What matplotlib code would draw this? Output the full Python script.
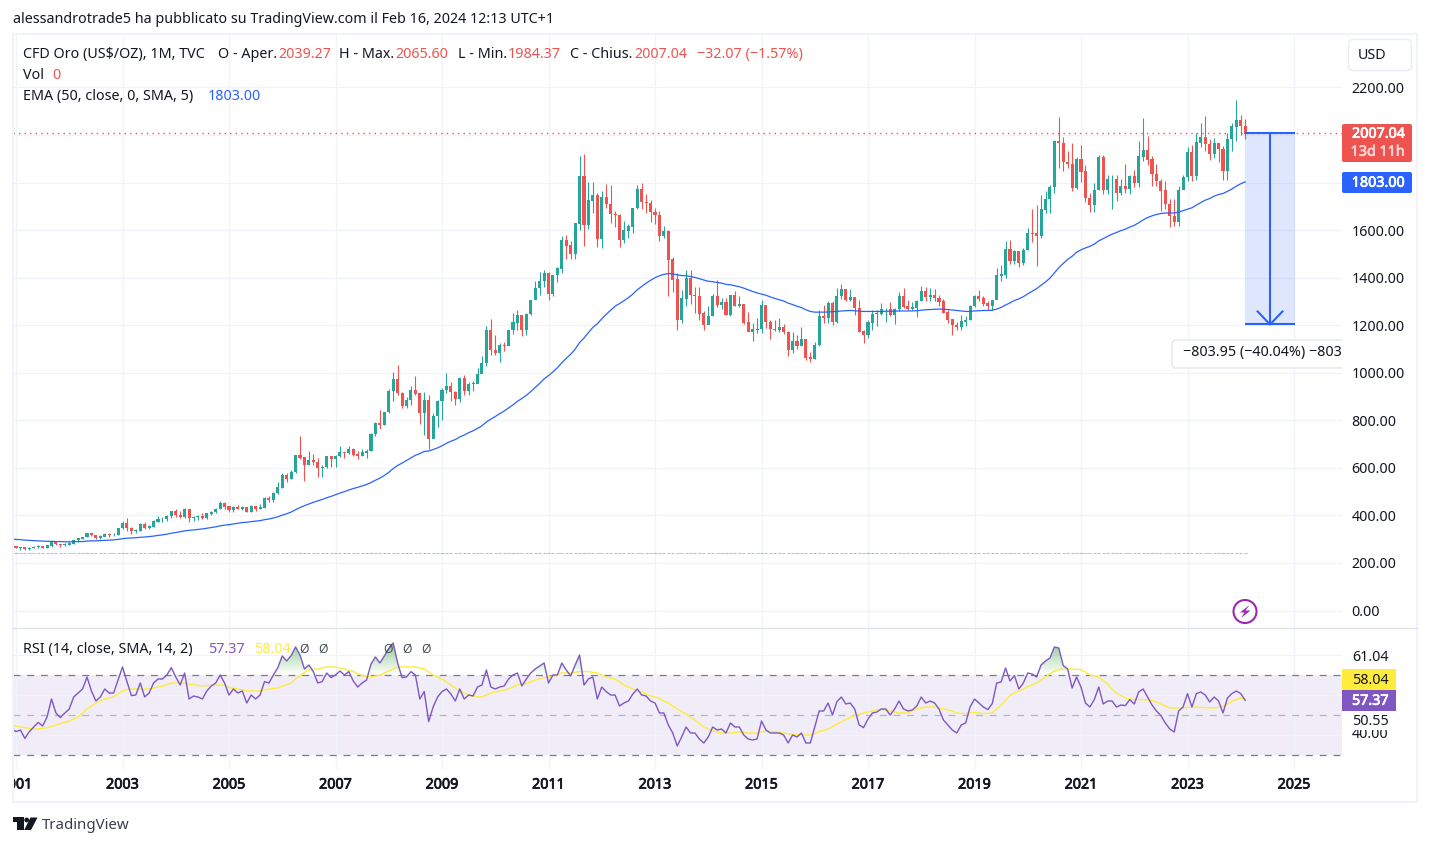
import matplotlib
matplotlib.use("Agg")
import matplotlib.pyplot as plt
import matplotlib.patheffects as pe
import numpy as np
from matplotlib.patches import Rectangle, FancyBboxPatch, Circle, Polygon, PathPatch
from matplotlib.path import Path

plt.rcParams['font.family'] = ['Noto Sans', 'DejaVu Sans']

# monthly candles, Jan 2001 -> Feb 2024
opens = [
    272, 265, 267, 258, 264, 266, 270, 265, 273, 293, 279, 275,
    277, 282, 297, 303, 309, 326, 318, 305, 312, 323, 317, 318,
    347, 367, 347, 335, 336, 364, 346, 354, 375, 385, 386, 398,
    416, 402, 396, 426, 388, 394, 395, 391, 408, 415, 428, 453,
    438, 422, 434, 428, 436, 414, 437, 429, 433, 473, 464, 495,
    517, 569, 556, 582, 654, 643, 613, 632, 624, 599, 603, 648,
    636, 650, 664, 663, 680, 656, 650, 665, 672, 743, 790, 783,
    834, 923, 972, 916, 863, 886, 926, 913, 833, 884, 724, 818,
    880, 928, 943, 919, 891, 979, 926, 953, 955, 995, 1040, 1180,
    1096, 1082, 1117, 1113, 1180, 1212, 1244, 1181, 1248, 1307, 1357, 1385,
    1421, 1333, 1410, 1439, 1556, 1536, 1501, 1628, 1827, 1621, 1724, 1747,
    1564, 1738, 1710, 1669, 1664, 1560, 1598, 1615, 1692, 1774, 1719, 1713,
    1675, 1663, 1578, 1595, 1476, 1393, 1224, 1313, 1396, 1327, 1323, 1250,
    1201, 1240, 1321, 1284, 1296, 1245, 1327, 1282, 1287, 1211, 1171, 1182,
    1184, 1283, 1213, 1183, 1182, 1190, 1172, 1095, 1134, 1115, 1142, 1064,
    1060, 1118, 1237, 1232, 1293, 1216, 1322, 1351, 1308, 1316, 1272, 1173,
    1159, 1211, 1248, 1249, 1268, 1268, 1242, 1269, 1321, 1279, 1271, 1275,
    1303, 1345, 1318, 1325, 1315, 1300, 1253, 1224, 1201, 1192, 1215, 1222,
    1282, 1321, 1313, 1292, 1283, 1305, 1409, 1413, 1520, 1472, 1511, 1464,
    1517, 1589, 1586, 1577, 1687, 1730, 1781, 1975, 1967, 1886, 1879, 1777,
    1898, 1847, 1734, 1708, 1769, 1907, 1770, 1814, 1814, 1757, 1783, 1774,
    1829, 1797, 1909, 1937, 1897, 1837, 1807, 1766, 1711, 1660, 1633, 1768,
    1824, 1928, 1827, 1969, 1990, 1962, 1919, 1965, 1940, 1849, 1984, 2036,
    2063, 2039.27,
]
highs = [
    272, 268, 267, 268, 273, 274, 271, 276, 294, 294, 278, 282,
    288, 298, 305, 311, 328, 327, 319, 317, 327, 325, 324, 349,
    375, 389, 352, 343, 370, 372, 359, 379, 396, 393, 400, 417,
    428, 420, 430, 428, 399, 402, 409, 412, 418, 430, 459, 456,
    430, 438, 445, 439, 435, 442, 437, 447, 476, 480, 497, 542,
    577, 578, 590, 655, 732, 643, 672, 659, 642, 610, 650, 640,
    655, 690, 668, 692, 684, 672, 680, 678, 745, 795, 845, 835,
    930, 1002, 1033, 920, 900, 945, 988, 915, 920, 905, 830, 885,
    935, 1000, 963, 925, 980, 990, 960, 965, 1020, 1070, 1195, 1227,
    1160, 1125, 1130, 1180, 1250, 1265, 1212, 1250, 1308, 1388, 1425, 1431,
    1425, 1412, 1445, 1576, 1578, 1555, 1632, 1912, 1920, 1804, 1804, 1755,
    1765, 1792, 1790, 1680, 1667, 1640, 1625, 1695, 1788, 1797, 1754, 1725,
    1695, 1680, 1617, 1600, 1488, 1420, 1348, 1433, 1434, 1361, 1362, 1260,
    1280, 1332, 1392, 1315, 1315, 1328, 1345, 1324, 1288, 1255, 1208, 1230,
    1307, 1285, 1220, 1224, 1232, 1205, 1175, 1170, 1157, 1191, 1143, 1088,
    1128, 1262, 1283, 1303, 1303, 1358, 1375, 1352, 1352, 1317, 1306, 1180,
    1220, 1264, 1262, 1295, 1272, 1296, 1272, 1339, 1358, 1306, 1299, 1308,
    1366, 1361, 1356, 1353, 1326, 1310, 1265, 1214, 1212, 1243, 1237, 1285,
    1326, 1347, 1325, 1304, 1306, 1439, 1452, 1555, 1557, 1517, 1514, 1523,
    1611, 1689, 1704, 1747, 1765, 1789, 1981, 2075, 1992, 1933, 1966, 1906,
    1960, 1872, 1755, 1798, 1916, 1917, 1834, 1834, 1834, 1814, 1878, 1830,
    1853, 1974, 2070, 1998, 1910, 1879, 1815, 1808, 1729, 1730, 1786, 1833,
    1949, 1960, 2010, 2049, 2078, 1984, 1988, 1967, 1953, 2009, 2052, 2147,
    2085, 2065.60,
]
lows = [
    262, 256, 255, 254, 262, 265, 263, 265, 269, 275, 269, 271,
    276, 281, 288, 300, 308, 315, 301, 302, 312, 309, 315, 316,
    343, 335, 322, 325, 333, 342, 343, 352, 371, 371, 375, 391,
    395, 390, 389, 371, 375, 381, 384, 385, 403, 412, 427, 428,
    415, 416, 425, 424, 414, 414, 418, 428, 432, 457, 455, 492,
    517, 542, 555, 580, 636, 543, 610, 610, 563, 560, 600, 605,
    603, 645, 640, 660, 650, 637, 648, 643, 670, 732, 765, 780,
    832, 880, 906, 850, 850, 865, 905, 785, 738, 680, 735, 770,
    802, 915, 880, 865, 875, 905, 905, 925, 990, 1000, 1030, 1075,
    1075, 1045, 1090, 1115, 1165, 1180, 1155, 1157, 1245, 1316, 1328, 1360,
    1308, 1325, 1381, 1420, 1480, 1478, 1478, 1600, 1534, 1605, 1670, 1530,
    1523, 1695, 1628, 1615, 1527, 1545, 1565, 1588, 1690, 1690, 1674, 1636,
    1627, 1555, 1565, 1321, 1338, 1181, 1208, 1282, 1290, 1251, 1222, 1182,
    1222, 1239, 1278, 1270, 1242, 1240, 1282, 1275, 1207, 1183, 1132, 1168,
    1167, 1190, 1142, 1174, 1170, 1165, 1072, 1085, 1098, 1112, 1053, 1047,
    1060, 1111, 1208, 1209, 1200, 1208, 1310, 1301, 1302, 1241, 1171, 1124,
    1146, 1180, 1195, 1241, 1214, 1237, 1205, 1260, 1272, 1265, 1265, 1236,
    1302, 1303, 1303, 1301, 1282, 1250, 1211, 1160, 1180, 1182, 1196, 1221,
    1276, 1303, 1281, 1266, 1266, 1310, 1385, 1400, 1459, 1459, 1445, 1453,
    1517, 1548, 1451, 1568, 1670, 1670, 1757, 1863, 1849, 1860, 1764, 1775,
    1802, 1717, 1677, 1677, 1770, 1750, 1750, 1688, 1722, 1746, 1758, 1753,
    1781, 1780, 1890, 1872, 1787, 1785, 1681, 1688, 1615, 1617, 1616, 1773,
    1805, 1805, 1810, 1948, 1932, 1893, 1902, 1885, 1810, 1810, 1932, 1973,
    2002, 1984.37,
]
closes = [
    265, 267, 258, 264, 266, 270, 265, 273, 293, 279, 275, 277,
    282, 297, 303, 309, 326, 318, 305, 312, 323, 317, 318, 347,
    367, 347, 335, 336, 364, 346, 354, 375, 385, 386, 398, 416,
    402, 396, 426, 388, 394, 395, 391, 408, 415, 428, 453, 438,
    422, 434, 428, 436, 414, 437, 429, 433, 473, 464, 495, 517,
    569, 556, 582, 654, 643, 613, 632, 624, 599, 603, 648, 636,
    650, 664, 663, 680, 656, 650, 665, 672, 743, 790, 783, 834,
    923, 972, 916, 863, 886, 926, 913, 833, 884, 724, 818, 880,
    928, 943, 919, 891, 979, 926, 953, 955, 995, 1040, 1180, 1096,
    1082, 1117, 1113, 1180, 1212, 1244, 1181, 1248, 1307, 1357, 1385, 1421,
    1333, 1410, 1439, 1556, 1536, 1501, 1628, 1827, 1621, 1724, 1747, 1564,
    1738, 1710, 1669, 1664, 1560, 1598, 1615, 1692, 1774, 1719, 1713, 1675,
    1663, 1578, 1595, 1476, 1393, 1224, 1313, 1396, 1327, 1323, 1250, 1201,
    1240, 1321, 1284, 1296, 1245, 1327, 1282, 1287, 1211, 1171, 1182, 1184,
    1283, 1213, 1183, 1182, 1190, 1172, 1095, 1134, 1115, 1142, 1064, 1060,
    1118, 1237, 1232, 1293, 1216, 1322, 1351, 1308, 1316, 1272, 1173, 1159,
    1211, 1248, 1249, 1268, 1268, 1242, 1269, 1321, 1279, 1271, 1275, 1303,
    1345, 1318, 1325, 1315, 1300, 1253, 1224, 1201, 1192, 1215, 1222, 1282,
    1321, 1313, 1292, 1283, 1305, 1409, 1413, 1520, 1472, 1511, 1464, 1517,
    1589, 1586, 1577, 1687, 1730, 1781, 1975, 1967, 1886, 1879, 1777, 1898,
    1847, 1734, 1708, 1769, 1907, 1770, 1814, 1814, 1757, 1783, 1774, 1829,
    1797, 1909, 1937, 1897, 1837, 1807, 1766, 1711, 1660, 1633, 1768, 1824,
    1928, 1827, 1969, 1990, 1962, 1919, 1965, 1940, 1849, 1984, 2036, 2063,
    2039.27, 2007.04,
]
# the three lines start one month before the first candle
ema50 = [
    300,
    299, 298, 296, 295, 294, 293, 292, 291, 291, 290, 290, 289,
    289, 289, 290, 290, 292, 293, 293, 294, 295, 296, 297, 299,
    302, 304, 305, 306, 308, 309, 311, 313, 316, 318, 321, 325,
    328, 331, 335, 337, 339, 341, 343, 346, 349, 352, 356, 359,
    361, 364, 367, 370, 371, 374, 376, 378, 382, 385, 389, 394,
    401, 407, 414, 424, 433, 441, 448, 455, 461, 467, 474, 480,
    487, 494, 500, 507, 513, 518, 524, 530, 538, 548, 557, 568,
    581, 597, 610, 620, 631, 642, 653, 660, 669, 671, 677, 684,
    693, 703, 712, 719, 730, 738, 748, 756, 766, 777, 793, 805,
    816, 828, 839, 852, 865, 880, 892, 905, 921, 938, 955, 974,
    988, 1004, 1021, 1042, 1061, 1078, 1099, 1127, 1146, 1169, 1191, 1206,
    1227, 1246, 1263, 1280, 1291, 1303, 1316, 1331, 1349, 1363, 1377, 1389,
    1400, 1408, 1414, 1417, 1416, 1412, 1409, 1408, 1405, 1401, 1396, 1390,
    1385, 1383, 1380, 1377, 1372, 1370, 1366, 1362, 1356, 1349, 1342, 1336,
    1331, 1326, 1319, 1313, 1307, 1302, 1293, 1287, 1280, 1274, 1265, 1258,
    1255, 1255, 1255, 1256, 1257, 1258, 1260, 1261, 1262, 1261, 1259, 1258,
    1258, 1258, 1258, 1258, 1259, 1259, 1259, 1260, 1260, 1260, 1260, 1261,
    1263, 1265, 1266, 1267, 1268, 1267, 1266, 1264, 1262, 1260, 1258, 1258,
    1260, 1261, 1262, 1262, 1263, 1268, 1275, 1285, 1294, 1304, 1311, 1320,
    1332, 1343, 1354, 1368, 1382, 1398, 1420, 1442, 1460, 1477, 1490, 1507,
    1517, 1525, 1532, 1541, 1555, 1564, 1574, 1583, 1590, 1598, 1604, 1613,
    1620, 1631, 1643, 1653, 1660, 1666, 1670, 1672, 1672, 1672, 1676, 1682,
    1688, 1694, 1705, 1716, 1726, 1733, 1743, 1750, 1754, 1763, 1773, 1785,
    1795, 1803,
]
rsi = [
    43,
    41.7, 42.5, 38.3, 41.7, 44, 46.3, 44.5, 49, 58, 51, 48.7, 51,
    53, 59, 61, 63, 69, 62, 57, 59, 63, 61, 61, 67.5,
    74, 66.7, 59.7, 60, 66, 59, 61, 66, 68, 68, 70, 73.7,
    69, 65, 71, 58, 59.5, 59, 58, 62, 64.5, 66, 70, 66,
    60, 63, 61, 62, 56, 60, 58, 60, 66.7, 66, 70, 73.7,
    79.5, 77, 79.7, 84, 80, 73, 75, 71.7, 66, 66.7, 71, 68.7,
    70, 72, 70, 71.7, 67, 64, 66, 67.5, 75.5, 79, 76, 79.5,
    83, 86, 76, 68.7, 69, 71.7, 70, 58, 61.7, 46.7, 54, 59,
    61.7, 63, 60.5, 57, 63, 58, 60, 59.5, 64, 65, 72.5, 64,
    63, 64, 64.5, 68, 70, 71, 64.5, 68, 71, 73, 74.5, 76,
    66, 70, 70, 76, 72.5, 69.5, 75, 80, 65, 68, 69, 58,
    64, 61.7, 60, 60, 54.5, 56, 57, 60.5, 63, 60, 59.5, 57,
    56, 51, 51, 45, 41, 34.5, 39, 44, 41, 41, 38, 36,
    39, 44, 42.5, 43, 41, 46, 44, 44, 40, 38, 37.5, 38,
    47, 42.5, 41, 41, 41, 40, 36, 40, 39, 41, 36, 36,
    44, 52, 52, 56, 50, 56.7, 59, 55.5, 56, 53, 45, 43.7,
    48, 51, 51.5, 53, 53, 50, 53, 57, 53, 52, 52.5, 54.5,
    59, 56, 57, 56, 53, 47.5, 45, 42.5, 41, 45, 46, 54,
    58, 56, 54, 52.7, 55.7, 66, 66.5, 73.5, 67, 69.7, 63, 66,
    71, 70.5, 69, 75, 77, 78.5, 84, 83.5, 74.7, 73, 63.5, 69,
    64, 56, 54, 57.7, 64, 55.5, 57, 57, 54, 55, 54.7, 57.7,
    55.5, 61.5, 63, 59, 55, 52, 49.7, 46, 43, 41.5, 52, 54,
    60.7, 54, 60.7, 61.5, 60, 56.5, 59, 57, 51, 58.5, 60.7, 62,
    60.7, 57.37,
]
rsi_ma = [
    45,
    44.5, 44, 43.6, 43.3, 43, 43, 43.3, 43.7, 44.3, 45, 45.7, 46.3,
    47, 48, 49, 51, 53, 54.5, 56, 57, 58, 58.5, 59, 60.5,
    62, 62.7, 63, 63, 63, 63, 63, 63.5, 64, 64.5, 65.3, 66,
    66, 66, 65.8, 65.5, 65.2, 64.8, 64.5, 64.7, 64.8, 65, 65, 65,
    63.7, 63.3, 63, 62.5, 62, 62, 62, 62, 62.5, 63, 63.2, 63.5,
    64.5, 65.2, 66, 68, 69.7, 71.2, 72.5, 72.8, 73, 73.5, 74, 74,
    74, 73.5, 73, 72.4, 71.7, 70.7, 69.7, 69.3, 69, 69.5, 70, 71,
    72, 73, 74, 74, 74, 74, 74, 73.5, 73, 71.5, 70, 69,
    68, 66.5, 65, 63.5, 62, 61, 60, 59.5, 59, 59, 60, 61,
    61.5, 62, 62.5, 63, 64, 65, 65.4, 65.8, 66.6, 67.5, 68, 68.7,
    69, 69.5, 70, 71, 71, 71, 71.3, 71.7, 71.7, 71.7, 71.3, 71,
    70, 69, 68.5, 68, 66.5, 65, 64, 63, 62.3, 61.7, 60.5, 59.5,
    59, 58.3, 57, 56, 54.5, 53, 51.7, 50.5, 49, 47.5, 45.7, 44,
    43, 42, 41.5, 41, 41, 41, 41.2, 41.5, 41.2, 41, 41, 41,
    41.5, 42, 41.8, 41.7, 41.3, 41, 40.6, 40.3, 40.2, 40, 40, 40,
    40.8, 41.7, 42.3, 43, 44.2, 45.5, 46.6, 47.8, 48.7, 49.7, 50.3, 51,
    51.5, 52, 52.5, 53, 52.5, 52, 51.5, 51, 51, 51, 52, 53,
    53.5, 54, 54, 54, 53.5, 53, 52.5, 52, 51, 50.8, 50.7, 51,
    51.3, 51, 50.7, 50.8, 51, 53, 55, 57.3, 59.7, 61, 62, 63,
    64.3, 65, 66, 67.5, 69, 70.5, 72, 72.7, 73, 73, 73, 72.8,
    72.7, 71.5, 70, 69.5, 69, 67.3, 65.5, 63, 61, 59.7, 58.5, 58,
    57.7, 57.7, 57.7, 57.5, 57.3, 56.5, 55.5, 54.5, 53.5, 53.5, 53.5, 53.6,
    53.8, 53.9, 54, 53.8, 53.7, 53.6, 53.5, 53.9, 54.3, 55.5, 56.8, 57.7,
    58.5, 58.04,
]
years = [2001, 2003, 2005, 2007, 2009, 2011, 2013, 2015, 2017, 2019, 2021, 2023, 2025]
price_ticks = [0, 200, 400, 600, 800, 1000, 1200, 1400, 1600, 1800, 2000, 2200]
hidden_ticks = [1800, 2000]  # sit under the price tags
volume_base = 240
measure_top = 2007.04
measure_bottom = 1203.09
measure_end = 288.2

W, H = 1430, 846
UP, DOWN = '#26a69a', '#ef5350'
BLUE = '#2962ff'
PURPLE = '#7e57c2'
YELLOW = '#ffeb3b'
INK = '#131722'
GRID = '#f0f3fa'
FONT = 14.3 * 0.72


def pane(left, top, right, bottom):
    return fig.add_axes([left / W, 1 - bottom / H, (right - left) / W, (bottom - top) / H])


def style_pane(ax):
    for s in ax.spines.values():
        s.set_visible(False)
    ax.set_facecolor('none')
    ax.set_xlim((13 - X0) / XSTEP, (1342 - X0) / XSTEP)
    ax.tick_params(length=0)
    ax.set_axisbelow(True)


def heavy(color):
    # Noto Sans has no bold cut here, thicken the outline instead
    return [pe.withStroke(linewidth=0.55, foreground=color)]


X0, XSTEP = 16, 4.4375
YZERO, YSTEP = 610.5, 0.23773

fig = plt.figure(figsize=(W / 100, H / 100), dpi=100, facecolor='white')
ax = pane(13, 34, 1342, 628)
ax_rsi = pane(13, 628, 1342, 770)
ax_time = pane(13, 770, 1342, 800)
for a in (ax, ax_rsi, ax_time):
    style_pane(a)

x = np.arange(len(closes))
line_x = np.arange(-1, len(closes))
year_x = [(y - 2001) * 12 for y in years]
o, h, l, c = map(np.array, (opens, highs, lows, closes))
colors = [UP if cc >= oo else DOWN for oo, cc in zip(o, c)]

# --- price pane ---
ax.set_ylim((YZERO - 628) / YSTEP, (YZERO - 34) / YSTEP)
ax.set_xticks(year_x)
ax.set_xticklabels([])
ax.set_yticks(price_ticks)
ax.set_yticklabels(['' if t in hidden_ticks else f'{t:.2f}' for t in price_ticks],
                   fontsize=FONT, color=INK)
ax.yaxis.tick_right()
ax.tick_params(axis='y', pad=7, length=0)
ax.grid(True, color=GRID, lw=0.9)

ax.axhline(closes[-1], color=DOWN, lw=1.0, ls=(0, (1, 3)), zorder=1.5)
ax.hlines([volume_base] * len(x), x - 0.34, x + 0.34, colors=colors, lw=0.8, alpha=0.5)
ax.vlines(x, l, h, colors=colors, lw=0.8, zorder=2)
ax.bar(x, np.abs(c - o) + 1.5, bottom=np.minimum(o, c) - 0.75, width=0.68,
       color=colors, lw=0, zorder=2.5)
ax.plot(line_x, ema50, color=BLUE, lw=0.9, zorder=3)

# measure tool
ax.fill_between([x[-1], measure_end], measure_bottom, measure_top, color=BLUE, alpha=0.15, lw=0, zorder=3)
ax.hlines([measure_top, measure_bottom], x[-1], measure_end, color=BLUE, lw=1.5, zorder=4)
mid = (x[-1] + measure_end) / 2
ax.plot([mid, mid], [measure_top, measure_bottom], color=BLUE, lw=1.5, zorder=4)
ax.plot([mid - 2.8, mid, mid + 2.8], [measure_bottom + 55, measure_bottom, measure_bottom + 55],
        color=BLUE, lw=1.5, zorder=4)

# --- RSI pane ---
ax_rsi.set_ylim(50 + (715 - 770) / 2, 50 + (715 - 628) / 2)
ax_rsi.set_xticks(year_x)
ax_rsi.set_xticklabels([])
ax_rsi.set_yticks([40, 60, 80])
ax_rsi.set_yticklabels([])
ax_rsi.grid(True, color=GRID, lw=0.9)
ax_rsi.axhspan(30, 70, color=PURPLE, alpha=0.1, lw=0, zorder=0.5)
ax_rsi.axhline(70, color='#787b86', lw=0.9, ls=(0, (5.5, 5.5)), zorder=1)
ax_rsi.axhline(50, color='#787b86', lw=0.9, ls=(0, (5.5, 5.5)), alpha=0.5, zorder=1)
ax_rsi.axhline(30, color='#787b86', lw=0.9, ls=(0, (5.5, 5.5)), zorder=1)

rsi_arr = np.array(rsi)
zone = ax_rsi.fill_between(line_x, 70, rsi_arr, where=rsi_arr > 70, interpolate=True, color='none', lw=0)
shape = PathPatch(Path.make_compound_path(*zone.get_paths()), transform=ax_rsi.transData,
                  facecolor='none', edgecolor='none')
ax_rsi.add_patch(shape)
grad = np.zeros((64, 2, 4))
grad[..., :3] = matplotlib.colors.to_rgb('#4caf50')
grad[..., 3] = np.linspace(0, 0.6, 64)[:, None]
xl, yl = ax_rsi.get_xlim(), ax_rsi.get_ylim()
im = ax_rsi.imshow(grad, extent=(xl[0], xl[1], 70, 86), origin='lower', aspect='auto', zorder=1.2)
im.set_clip_path(shape)
ax_rsi.set_xlim(xl)
ax_rsi.set_ylim(yl)
ax_rsi.plot(line_x, rsi_ma, color=YELLOW, lw=1.0, zorder=2)
ax_rsi.plot(line_x, rsi, color=PURPLE, lw=1.0, zorder=3)

# --- time axis ---
ax_time.set_ylim(0, 1)
ax_time.set_xticks([])
ax_time.set_yticks([])
for y, xx in zip(years, year_x):
    ax_time.text(xx, 0.5, str(y), ha='center', va='center', fontsize=FONT, color=INK,
                 clip_on=True, path_effects=heavy(INK))

# --- overlay in pixel coordinates: legends, price tags, frame ---
ov = fig.add_axes([0, 0, 1, 1])
ov.set_xlim(0, W)
ov.set_ylim(H, 0)
ov.axis('off')
ov.patch.set_alpha(0)


def label(px, py, s, color=INK, size=FONT, **kw):
    kw.setdefault('va', 'center')
    return ov.text(px, py + 0.7, s, color=color, fontsize=size, **kw)


ov.add_patch(Rectangle((13, 34), 1404, 768, fill=False, edgecolor=GRID, lw=1.5))
ov.plot([13, 1417], [628, 628], color='#e0e3eb', lw=1.0)

label(13, 19, 'alessandrotrade5 ha pubblicato su TradingView.com il Feb 16, 2024 12:13 UTC+1')

label(23, 54, 'CFD Oro (US$/OZ), 1M, TVC')
for px, s in [(218, 'O - Aper.'), (339, 'H - Max.'), (458, 'L - Min.'), (570, 'C - Chius.')]:
    label(px, 54, s)
for px, s in [(278, '2039.27'), (395, '2065.60'), (508, '1984.37'), (634, '2007.04'),
              (697, '−32.07 (−1.57%)')]:
    label(px, 54, s, color=DOWN)
label(23, 75, 'Vol')
label(52, 75, '0', color=DOWN)
label(23, 96, 'EMA (50, close, 0, SMA, 5)')
label(208, 96, '1803.00', color=BLUE)

label(23, 649, 'RSI (14, close, SMA, 14, 2)')
label(208, 649, '57.37', color=PURPLE)
label(254, 649, '58.04', color=YELLOW)
for px in [304, 323, 388, 407, 426]:
    label(px, 649, 'Ø', ha='center', color='#4a4e5a', size=FONT * 0.85)

# USD button
ov.add_patch(FancyBboxPatch((1350, 41), 60, 28, boxstyle='round,pad=1.5,rounding_size=5',
                            facecolor='white', edgecolor='#e9ecf3', lw=1.0))
label(1372, 55, 'USD', ha='center')

# price tags
ov.add_patch(FancyBboxPatch((1342, 124), 70, 38, boxstyle='round,pad=0,rounding_size=2', facecolor=DOWN, lw=0))
label(1405, 133.5, '2007.04', color='white', ha='right', path_effects=heavy('white'))
label(1405, 151.5, '13d 11h', color='#fbd3d2', ha='right', path_effects=heavy('#fbd3d2'))
ov.add_patch(FancyBboxPatch((1342, 172), 70, 21, boxstyle='round,pad=0,rounding_size=2', facecolor=BLUE, lw=0))
label(1405, 182.5, '1803.00', color='white', ha='right', path_effects=heavy('white'))

# RSI scale
label(1352, 657, '61.04')
label(1352, 734, '40.00')
label(1352, 721, '50.55', bbox=dict(facecolor='white', edgecolor='none', pad=0.6))
ov.add_patch(Rectangle((1342, 669), 54, 21, facecolor=YELLOW, lw=0))
label(1352, 679.5, '58.04')
ov.add_patch(Rectangle((1342, 690), 54, 21, facecolor=PURPLE, lw=0))
label(1352, 700.5, '57.37', color='white', path_effects=heavy('white'))

# measure label, cut at the price scale
cut = Rectangle((0, 0), 1342, H, transform=ov.transData)
box = FancyBboxPatch((1172, 340), 230, 28, boxstyle='round,pad=0,rounding_size=4',
                     facecolor='white', edgecolor='#e6e8ee', lw=1.0)
ov.add_patch(box)
box.set_clip_path(cut)
t = label(1183, 351.5, '−803.95 (−40.04%) −803.95')
t.set_clip_path(cut)
t.set_clip_on(True)

# lightning badge
ov.add_patch(Circle((1245, 611.5), 11.5, facecolor='white', edgecolor='#9c27b0', lw=1.5))
ov.add_patch(Polygon([(1249.5, 605), (1240, 612.5), (1244.5, 612.5), (1241, 618), (1250.5, 610.5), (1245.5, 610.5)],
                     facecolor='#9c27b0', lw=0))

# TradingView mark
ov.add_patch(Polygon([(13, 817.5), (23.5, 817.5), (23.5, 830), (17, 830), (17, 822.5), (13, 822.5)],
                     facecolor=INK, lw=0))
ov.add_patch(Circle((26.7, 820), 2.4, facecolor=INK, lw=0))
ov.add_patch(Polygon([(30.5, 817.5), (37.5, 817.5), (31, 830), (24.2, 830)], facecolor=INK, lw=0))
label(42, 824.5, 'TradingView', color='#3a3e4a', size=15 * 0.72)

fig.savefig('out.png', dpi=100, facecolor='white')
